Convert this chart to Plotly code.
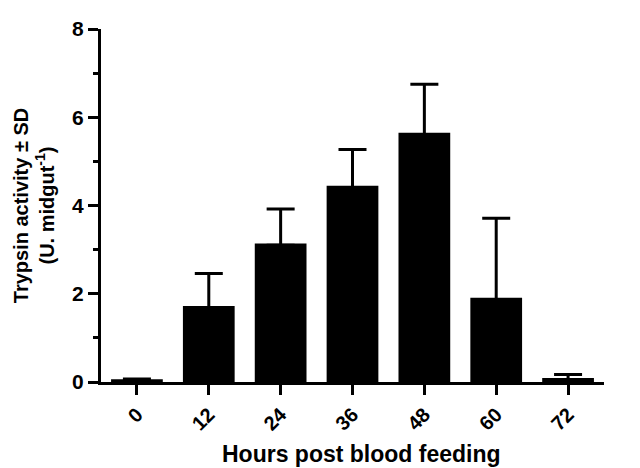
import plotly.graph_objects as go

categories = ["0", "12", "24", "36", "48", "60", "72"]
means = [0.06, 1.72, 3.14, 4.45, 5.65, 1.91, 0.09]
sd = [0.01, 0.74, 0.78, 0.82, 1.10, 1.80, 0.08]
sd_minus = [0.04] * len(sd)

font = "Liberation Sans, Arial, sans-serif"

fig = go.Figure(go.Bar(
    x=categories, y=means, width=0.72,
    marker=dict(color="black", line=dict(width=0)),
    error_y=dict(type="data", array=sd, symmetric=False, arrayminus=sd_minus,
                 color="black", thickness=3, width=14),
))

fig.update_layout(
    width=640, height=468,
    margin=dict(l=101, r=36, t=29, b=86),
    plot_bgcolor="white", paper_bgcolor="white",
    font=dict(family=font, color="black", size=20),
    showlegend=False,
    annotations=[dict(
        text="<b>Hours post blood feeding</b>", xref="paper", yref="paper",
        x=0.518, y=-0.205, xanchor="center", yanchor="middle", showarrow=False,
        font=dict(family=font, size=23, color="black"),
    )],
)
fig.update_xaxes(
    type="category", range=[-0.5, 6.5], automargin=False,
    showline=True, linecolor="black", linewidth=3,
    ticks="outside", ticklen=10, tickwidth=3, tickcolor="black",
    tickangle=-45, tickfont=dict(family=font, size=20, weight="bold"),
    showgrid=False,
)
fig.update_yaxes(
    range=[0, 8], dtick=2,
    showline=True, linecolor="black", linewidth=3,
    ticks="outside", ticklen=10, tickwidth=3, tickcolor="black",
    minor=dict(ticks="outside", dtick=1, ticklen=5, tickwidth=3, tickcolor="black"),
    tickfont=dict(family=font, size=21, weight="bold"),
    title=dict(text="<b>Trypsin activity ± SD<br>(U. midgut<sup>-1</sup>)</b>",
               font=dict(family=font, size=20), standoff=13),
    showgrid=False, zeroline=False,
)

fig.write_html("out.html")
